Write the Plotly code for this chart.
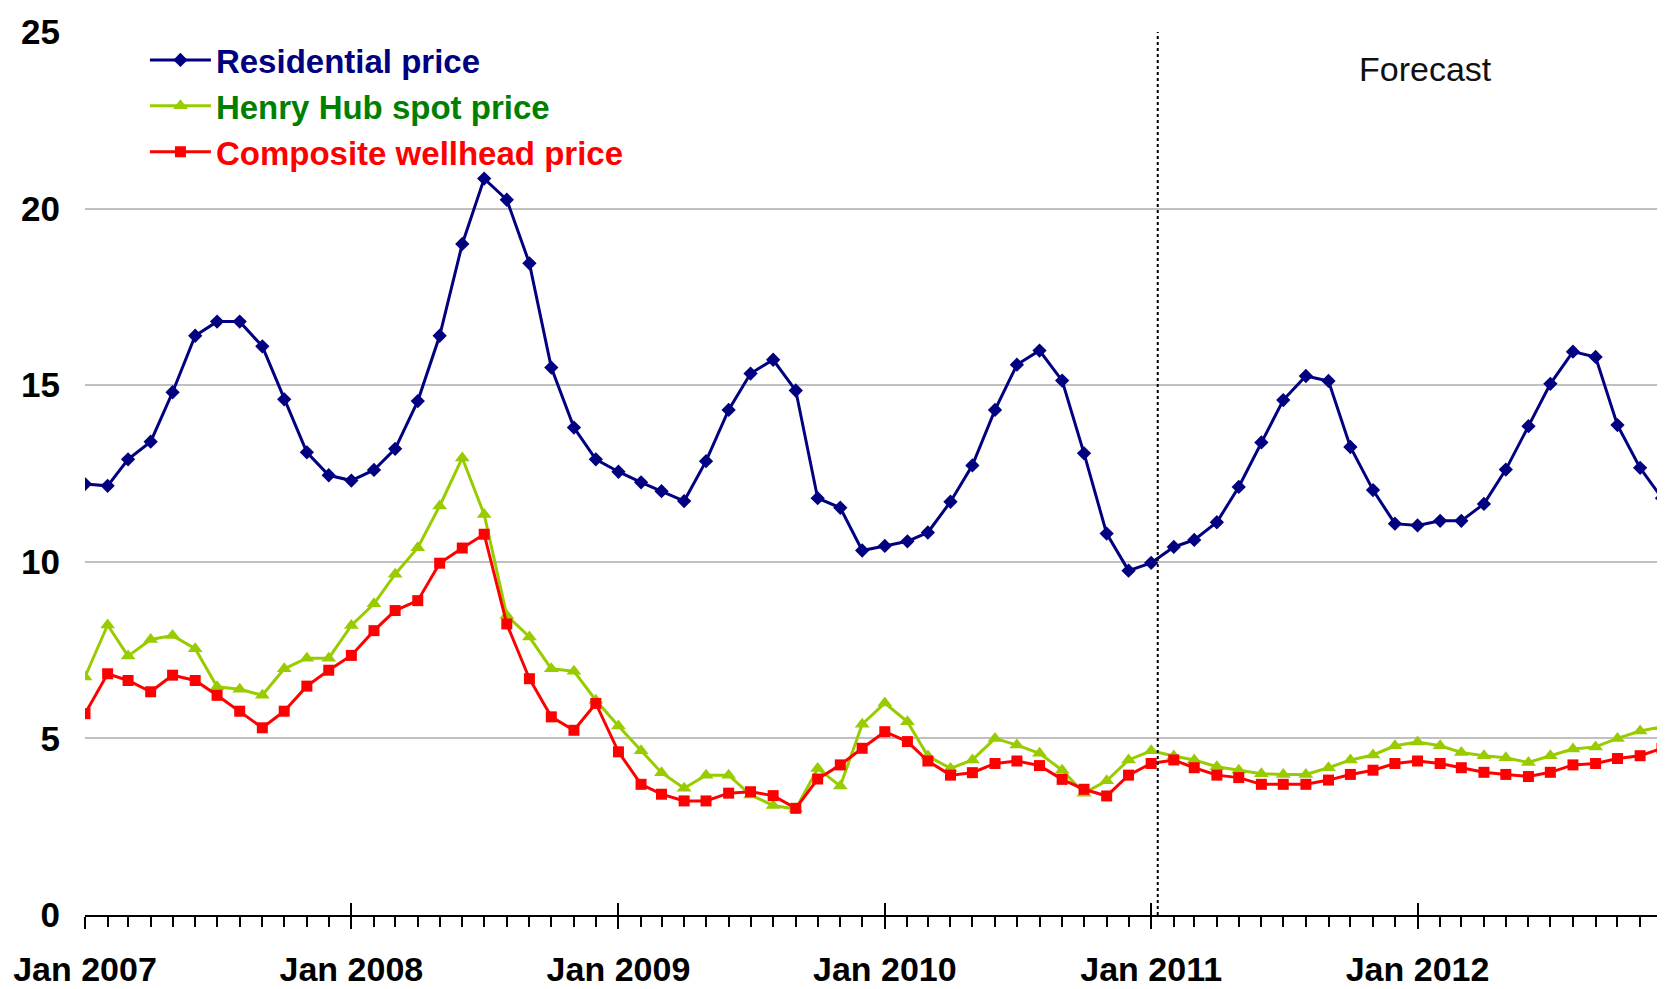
import plotly.graph_objects as go
import pandas as pd

# ---- data ----
months = pd.date_range("2007-01-01", "2012-12-01", freq="MS")

residential = [
    12.2, 12.15, 12.9, 13.4, 14.8, 16.4, 16.8, 16.8, 16.1, 14.6, 13.1, 12.45,
    12.3, 12.6, 13.2, 14.55, 16.4, 19.0, 20.85, 20.25, 18.45, 15.5, 13.8, 12.9,
    12.55, 12.25, 12.0, 11.72, 12.85, 14.3, 15.33, 15.72, 14.85, 11.8, 11.53, 10.32,
    10.45, 10.58, 10.83, 11.7, 12.73, 14.3, 15.58, 15.98, 15.13, 13.07, 10.8, 9.75,
    9.97, 10.42, 10.62, 11.12, 12.12, 13.38, 14.58, 15.26, 15.12, 13.25, 12.03, 11.08,
    11.03, 11.16, 11.16, 11.64, 12.61, 13.84, 15.04, 15.95, 15.8, 13.87, 12.66, 11.8,
]
henry_hub = [
    6.74, 8.21, 7.33, 7.8, 7.91, 7.54, 6.46, 6.39, 6.22, 6.97, 7.27, 7.27,
    8.2, 8.81, 9.65, 10.4, 11.58, 12.94, 11.34, 8.48, 7.87, 6.97, 6.9, 6.08,
    5.35, 4.65, 4.03, 3.59, 3.96, 3.96, 3.4, 3.1, 3.0, 4.15, 3.65, 5.4,
    6.0, 5.47, 4.5, 4.15, 4.39, 5.0, 4.81, 4.58, 4.1, 3.45, 3.8, 4.39,
    4.65, 4.5, 4.39, 4.2, 4.1, 4.0, 3.98, 3.98, 4.17, 4.39, 4.53, 4.79,
    4.9, 4.79, 4.6, 4.51, 4.45, 4.32, 4.51, 4.7, 4.76, 5.0, 5.21, 5.33,
]
wellhead = [
    5.7, 6.83, 6.64, 6.32, 6.79, 6.64, 6.22, 5.77, 5.3, 5.77, 6.48, 6.93,
    7.35, 8.05, 8.62, 8.9, 9.96, 10.39, 10.78, 8.24, 6.69, 5.61, 5.23, 5.99,
    4.62, 3.7, 3.42, 3.23, 3.23, 3.45, 3.49, 3.38, 3.02, 3.85, 4.25, 4.72,
    5.19, 4.91, 4.36, 3.96, 4.03, 4.29, 4.36, 4.23, 3.84, 3.56, 3.37, 3.96,
    4.29, 4.39, 4.17, 3.96, 3.89, 3.7, 3.7, 3.7, 3.82, 3.98, 4.1, 4.29,
    4.36, 4.29, 4.17, 4.04, 3.98, 3.92, 4.04, 4.25, 4.29, 4.43, 4.51, 4.72,
]
series_names = ["Residential price", "Henry Hub spot price", "Composite wellhead price"]
y_ticks = [0, 5, 10, 15, 20, 25]
forecast_start = "2011-01-10"
forecast_label = "Forecast"

# ---- styles ----
NAVY = "#000080"
GREEN = "#99cc00"
GREEN_TXT = "#008000"
RED = "#ff0000"
FONT = "Liberation Sans Narrow, Arial Narrow, Liberation Sans, Arial, sans-serif"

fig = go.Figure()
fig.add_trace(go.Scatter(
    x=months, y=residential, mode="lines+markers",
    name=f'<span style="color:{NAVY}">{series_names[0]}</span>',
    line=dict(color=NAVY, width=3),
    marker=dict(symbol="diamond", size=11, color=NAVY),
))
fig.add_trace(go.Scatter(
    x=months, y=henry_hub, mode="lines+markers",
    name=f'<span style="color:{GREEN_TXT}">{series_names[1]}</span>',
    line=dict(color=GREEN, width=3),
    marker=dict(symbol="triangle-up", size=13, color=GREEN),
))
fig.add_trace(go.Scatter(
    x=months, y=wellhead, mode="lines+markers",
    name=f'<span style="color:{RED}">{series_names[2]}</span>',
    line=dict(color=RED, width=3),
    marker=dict(symbol="square", size=11, color=RED),
))

# forecast divider
fig.add_shape(type="line", xref="x", yref="y",
              x0=forecast_start, x1=forecast_start, y0=0, y1=y_ticks[-1],
              line=dict(color="black", width=2, dash="dot"))
fig.add_annotation(xref="paper", yref="paper", x=0.85, y=0.958,
                   xanchor="center", yanchor="middle",
                   text=forecast_label, showarrow=False,
                   font=dict(family=FONT, size=34, color="#111111"))

x_range = [months[0], months[-1]]

# page body has an 8px margin: size the figure so the plot lands where the reference has it
fig.update_layout(
    width=1657, height=981,
    margin=dict(l=77, r=3, t=24, b=74),
    paper_bgcolor="white", plot_bgcolor="white",
    font=dict(family=FONT, size=34, color="black"),
    showlegend=True,
    legend=dict(x=0.038, y=1.0, xanchor="left", yanchor="top",
                bgcolor="rgba(0,0,0,0)", tracegroupgap=0,
                font=dict(family=FONT, size=33, weight="bold"),
                itemwidth=61),
    xaxis=dict(
        type="date", range=x_range, automargin=False,
        tick0="2007-01-01", dtick="M12", tickformat="%b %Y",
        ticks="outside", ticklen=12, tickwidth=2, tickcolor="black",
        minor=dict(dtick="M1", ticks="outside", ticklen=10, tickwidth=2, tickcolor="black", showgrid=False),
        showline=True, linecolor="black", linewidth=2,
        showgrid=False, zeroline=False,
        tickfont=dict(family=FONT, size=34, weight="bold", color="black"),
        ticklabelstandoff=11,
    ),
    xaxis2=dict(
        type="date", overlaying="x", matches="x", anchor="y", side="bottom",
        automargin=False,
        tick0="2007-01-01", dtick="M12",
        ticks="inside", ticklen=12, tickwidth=2, tickcolor="black",
        showticklabels=False, showgrid=False, showline=False, zeroline=False,
    ),
    yaxis=dict(
        range=[0, 25], tickvals=y_ticks, automargin=False,
        showgrid=True, gridcolor="#c0c0c0", gridwidth=2,
        showline=False, zeroline=False, ticks="",
        tickfont=dict(family=FONT, size=35, weight="bold", color="black"),
        ticklabelstandoff=24,
    ),
)
# dummy trace to activate xaxis2 (overlay ticks)
fig.add_trace(go.Scatter(x=[months[0]], y=[None], xaxis="x2", yaxis="y",
                         showlegend=False, hoverinfo="skip"))

fig.write_html("out.html")
